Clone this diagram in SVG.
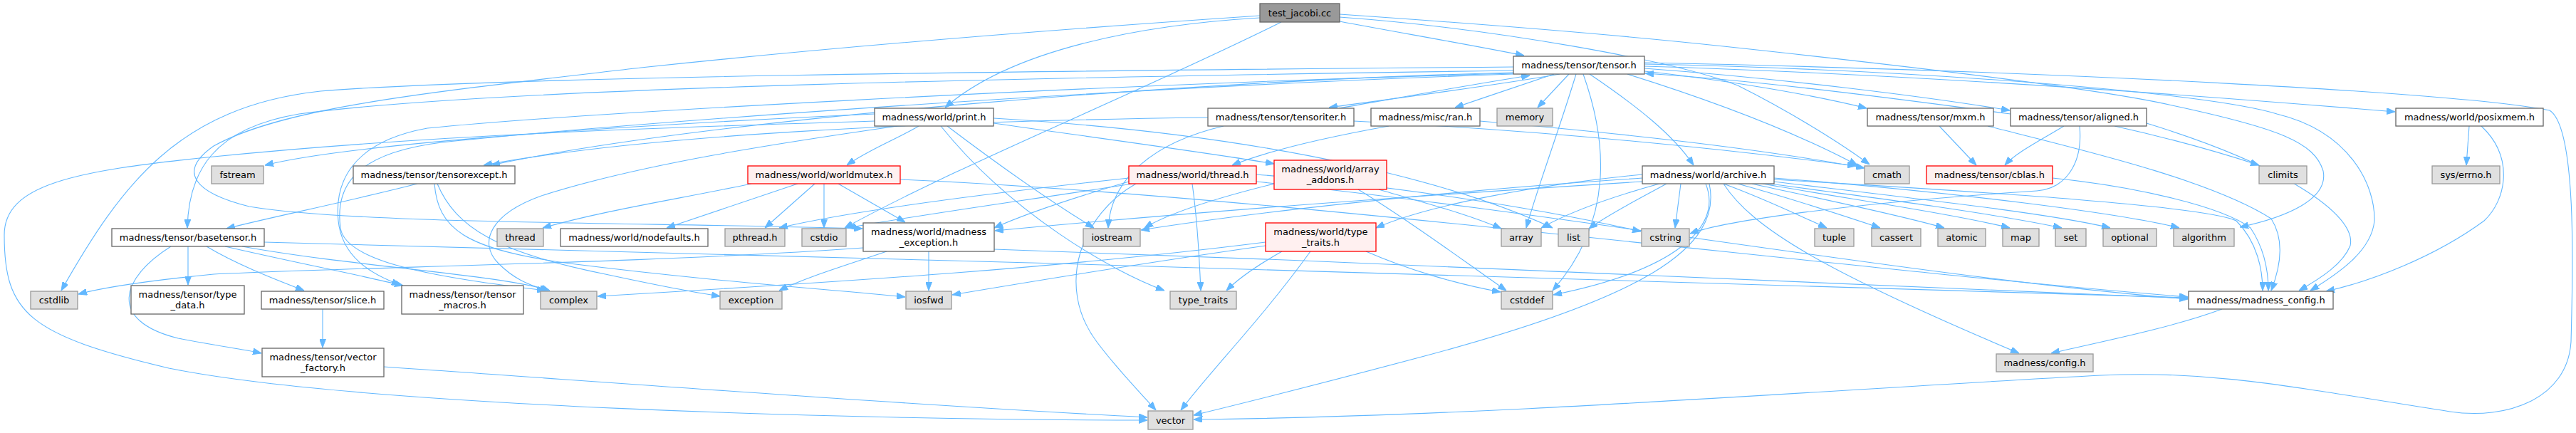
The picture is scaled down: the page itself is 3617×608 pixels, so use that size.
<svg xmlns="http://www.w3.org/2000/svg" width="3617" height="608" viewBox="0 0 3617 608">
<style>
.e{fill:none;stroke:#63b8ff;stroke-width:1.1;marker-end:url(#ah)}
.n rect{fill:#ffffff;stroke:#666666;stroke-width:1.3}
.s rect{fill:#e0e0e0;stroke:#999999;stroke-width:1.3}
.r rect{fill:#fff0f0;stroke:#ff0000;stroke-width:1.3}
.root rect{fill:#999999;stroke:#666666;stroke-width:1.3}
text{font-family:"DejaVu Sans","Liberation Sans",sans-serif;font-size:13px;fill:#000;text-anchor:middle}
</style>
<defs>
<marker id="ah" markerWidth="12" markerHeight="9" refX="12" refY="4.5" orient="auto" markerUnits="userSpaceOnUse">
<path d="M0,0 L12,4.5 L0,9 z" fill="#63b8ff" stroke="#63b8ff"/>
</marker>
</defs>
<rect width="3617" height="608" fill="#ffffff"/>
<g id="edges">
<path class="e" d="M1881,30 C1960,45 2060,62 2140,78"/>
<path class="e" d="M1769,25 C1600,35 1420,70 1327,151"/>
<path class="e" d="M1799,31 C1600,130 1350,230 1186,320"/>
<path class="e" d="M1881,24 C2100,40 2350,85 2440,120 C2520,160 2590,205 2625,231"/>
<path class="e" d="M1881,20 C2100,35 2300,52 2420,65 C2700,95 2950,125 3050,148 C3200,180 3250,200 3262,240 C3270,280 3210,305 3145,319"/>
<path class="e" d="M1769,22 C1500,40 1200,63 900,95 C600,130 400,150 300,205 C250,240 270,270 350,290 C500,315 900,312 1211,321"/>
<path class="e" d="M2190,104 C2100,120 1960,138 1866,151"/>
<path class="e" d="M1880,152 C1960,138 2070,118 2148,106"/>
<path class="e" d="M2182,104 C2140,118 2090,135 2043,151"/>
<path class="e" d="M2203,104 L2159,151"/>
<path class="e" d="M2309,100 C2420,112 2540,132 2621,152"/>
<path class="e" d="M2309,96 C2500,110 2700,135 2822,155"/>
<path class="e" d="M2309,93 C2700,105 3100,135 3363,157"/>
<path class="e" d="M2232,104 C2300,150 2350,190 2378,232"/>
<path class="e" d="M2285,104 C2400,140 2520,185 2608,232"/>
<path class="e" d="M2213,104 C2190,180 2160,260 2143,320"/>
<path class="e" d="M2223,104 C2250,180 2275,300 2180,408"/>
<path class="e" d="M2125,99 C1500,108 700,122 420,160 C300,180 265,240 263,320"/>
<path class="e" d="M2125,94 C1400,100 700,108 450,128 C250,150 170,260 86,408"/>
<path class="e" d="M2125,102 C1700,112 1000,165 690,232"/>
<path class="e" d="M2309,88 C2900,100 3450,130 3580,155 C3620,180 3612,400 3610,480 C3605,560 3520,590 3440,578 C3200,540 3100,520 2950,527 C2600,545 2100,585 1676,589"/>
<path class="e" d="M2309,90 C2700,98 3100,130 3197,160 C3300,185 3335,260 3334,310 C3330,350 3290,380 3244,408"/>
<path class="e" d="M2125,103 C1500,120 800,160 600,180 C490,200 470,260 475,310 C480,360 520,385 562,400"/>
<path class="e" d="M2125,104 C1500,125 800,180 620,200 C500,215 470,260 478,320 C485,370 620,390 766,408"/>
<path class="e" d="M1696,165 C1300,170 900,190 679,232"/>
<path class="e" d="M1718,177 C1620,200 1560,250 1556,320"/>
<path class="e" d="M1901,170 C2100,180 2350,200 2606,233"/>
<path class="e" d="M1228,160 C900,175 500,200 372,232"/>
<path class="e" d="M1290,177 C1260,195 1220,210 1189,232"/>
<path class="e" d="M1395,173 C1550,195 1700,215 1789,230"/>
<path class="e" d="M1330,177 C1400,230 1470,280 1536,320"/>
<path class="e" d="M1321,177 C1420,300 1560,380 1635,408"/>
<path class="e" d="M1395,166 C1800,190 2050,260 2180,320"/>
<path class="e" d="M1260,177 C1100,200 900,230 760,275 C690,300 670,340 700,370 C720,390 740,400 770,408"/>
<path class="e" d="M1228,170 C900,180 600,190 300,220 C100,240 6,260 6,330 C6,440 40,470 237,517 C500,570 1200,590 1611,590"/>
<path class="e" d="M1055,258 C950,280 850,295 762,320"/>
<path class="e" d="M1120,258 L936,320"/>
<path class="e" d="M1144,258 L1074,320"/>
<path class="e" d="M1157,258 L1157,320"/>
<path class="e" d="M1177,258 L1271,312"/>
<path class="e" d="M1264,252 C1800,275 2600,380 3072,417"/>
<path class="e" d="M1674,258 C1680,300 1684,360 1686,408"/>
<path class="e" d="M1585,250 C1400,270 1200,295 1094,320"/>
<path class="e" d="M1590,258 C1450,280 1300,300 1190,320"/>
<path class="e" d="M1585,255 C1500,280 1440,300 1396,320"/>
<path class="e" d="M1595,258 C1520,300 1480,400 1540,480 C1570,520 1600,550 1623,576"/>
<path class="e" d="M1764,255 C2200,300 2700,390 3072,420"/>
<path class="e" d="M1764,245 C1950,260 2150,290 2304,325"/>
<path class="e" d="M1936,266 C2000,285 2060,300 2108,321"/>
<path class="e" d="M1789,258 C1700,280 1640,300 1607,320"/>
<path class="e" d="M1907,266 C1980,310 2060,370 2115,408"/>
<path class="e" d="M1304,353 L1304,408"/>
<path class="e" d="M1245,353 C1180,375 1130,390 1094,408"/>
<path class="e" d="M1396,350 C2000,370 2700,405 3072,419"/>
<path class="e" d="M1212,348 C900,370 500,375 300,385 C200,395 140,405 110,413"/>
<path class="e" d="M1800,353 C1770,370 1740,390 1722,408"/>
<path class="e" d="M1777,345 C1600,370 1450,395 1337,414"/>
<path class="e" d="M1918,353 C1980,380 2050,400 2107,410"/>
<path class="e" d="M1840,353 C1770,450 1700,520 1658,576"/>
<path class="e" d="M1777,340 C1500,375 1200,395 839,416"/>
<path class="e" d="M2306,245 C2150,260 2000,290 1932,320"/>
<path class="e" d="M2330,258 C2250,280 2200,300 2164,320"/>
<path class="e" d="M2340,258 C2300,280 2260,300 2231,321"/>
<path class="e" d="M2360,258 L2352,320"/>
<path class="e" d="M2420,258 C2480,280 2520,300 2565,320"/>
<path class="e" d="M2440,258 C2520,280 2580,300 2640,320"/>
<path class="e" d="M2460,258 C2560,280 2660,300 2730,320"/>
<path class="e" d="M2475,258 C2600,280 2740,300 2822,320"/>
<path class="e" d="M2485,258 C2650,280 2800,300 2895,320"/>
<path class="e" d="M2491,255 C2700,280 2880,300 2963,320"/>
<path class="e" d="M2491,250 C2750,270 2980,300 3060,320"/>
<path class="e" d="M2395,258 C2420,320 2350,380 2181,414"/>
<path class="e" d="M2306,250 C2000,270 1750,300 1602,323"/>
<path class="e" d="M2306,255 C1900,280 1600,305 1397,324"/>
<path class="e" d="M2400,258 C2420,350 2300,420 2000,500 C1850,540 1750,565 1676,583"/>
<path class="e" d="M2420,258 C2460,320 2560,380 2835,496"/>
<path class="e" d="M2491,252 C2800,270 3100,290 3140,310 C3170,340 3177,380 3177,408"/>
<path class="e" d="M2723,177 L2775,232"/>
<path class="e" d="M2791,177 C2900,205 3100,250 3189,307 C3210,340 3200,380 3189,408"/>
<path class="e" d="M2898,177 C2860,200 2830,215 2815,232"/>
<path class="e" d="M2823,160 C2600,130 2450,112 2310,103"/>
<path class="e" d="M2969,177 C3050,195 3120,215 3172,232"/>
<path class="e" d="M3014,173 C3200,230 3310,300 3300,345 C3290,370 3260,390 3228,408"/>
<path class="e" d="M2920,177 C2925,230 2900,265 2860,268 C2600,285 2420,310 2373,328"/>
<path class="e" d="M2882,250 C3000,262 3120,290 3160,320 C3180,350 3185,380 3185,408"/>
<path class="e" d="M3467,177 L3463,232"/>
<path class="e" d="M3484,177 C3530,220 3520,280 3488,310 C3420,360 3330,395 3266,409"/>
<path class="e" d="M1950,177 C1850,195 1780,212 1730,232"/>
<path class="e" d="M2078,170 C2250,185 2450,205 2618,236"/>
<path class="e" d="M264,346 L264,400"/>
<path class="e" d="M290,346 C330,370 380,390 427,408"/>
<path class="e" d="M316,346 C420,370 500,385 566,401"/>
<path class="e" d="M240,346 C170,390 150,450 250,475 C300,485 340,490 367,496"/>
<path class="e" d="M340,346 C500,375 700,385 772,408"/>
<path class="e" d="M371,340 C1200,360 2500,400 3072,418"/>
<path class="e" d="M586,258 C480,285 380,305 318,321"/>
<path class="e" d="M614,258 C640,320 700,355 850,385 C920,400 970,410 1011,416"/>
<path class="e" d="M610,258 C615,320 650,350 800,370 C1000,395 1150,405 1271,417"/>
<path class="e" d="M453,434 L453,488"/>
<path class="e" d="M539,515 C900,540 1300,570 1611,586"/>
<path class="e" d="M3120,434 C3050,460 2950,480 2880,496"/>
</g>
<g id="test_jacobi" class="root"><rect x="1769" y="5" width="112" height="26"/><text x="1825" y="22.5">test_jacobi.cc</text></g>
<g id="tensor_h" class="n"><rect x="2125" y="79" width="184" height="25"/><text x="2217" y="96">madness/tensor/tensor.h</text></g>
<g id="print_h" class="n"><rect x="1228" y="152" width="167" height="25"/><text x="1311.5" y="169">madness/world/print.h</text></g>
<g id="tensoriter_h" class="n"><rect x="1696" y="152" width="205" height="25"/><text x="1798.5" y="169">madness/tensor/tensoriter.h</text></g>
<g id="ran_h" class="n"><rect x="1925" y="152" width="153" height="25"/><text x="2001.5" y="169">madness/misc/ran.h</text></g>
<g id="memory" class="s"><rect x="2102" y="152" width="78" height="25"/><text x="2141" y="169">memory</text></g>
<g id="mxm_h" class="n"><rect x="2622" y="152" width="177" height="25"/><text x="2710.5" y="169">madness/tensor/mxm.h</text></g>
<g id="aligned_h" class="n"><rect x="2823" y="152" width="191" height="25"/><text x="2918.5" y="169">madness/tensor/aligned.h</text></g>
<g id="posixmem_h" class="n"><rect x="3364" y="152" width="207" height="25"/><text x="3467.5" y="169">madness/world/posixmem.h</text></g>
<g id="fstream" class="s"><rect x="297" y="233" width="73" height="25"/><text x="333.5" y="250">fstream</text></g>
<g id="tensorexcept_h" class="n"><rect x="496" y="233" width="227" height="25"/><text x="609.5" y="250">madness/tensor/tensorexcept.h</text></g>
<g id="worldmutex_h" class="r"><rect x="1050" y="233" width="214" height="25"/><text x="1157" y="250">madness/world/worldmutex.h</text></g>
<g id="thread_h" class="r"><rect x="1585" y="233" width="179" height="25"/><text x="1674.5" y="250">madness/world/thread.h</text></g>
<g id="array_addons_h" class="r"><rect x="1789" y="225" width="158" height="41"/><text x="1868" y="242">madness/world/array</text><text x="1868" y="257">_addons.h</text></g>
<g id="archive_h" class="n"><rect x="2306" y="233" width="185" height="25"/><text x="2398.5" y="250">madness/world/archive.h</text></g>
<g id="cmath" class="s"><rect x="2618" y="233" width="63" height="25"/><text x="2649.5" y="250">cmath</text></g>
<g id="cblas_h" class="r"><rect x="2705" y="233" width="177" height="25"/><text x="2793.5" y="250">madness/tensor/cblas.h</text></g>
<g id="climits" class="s"><rect x="3172" y="233" width="67" height="25"/><text x="3205.5" y="250">climits</text></g>
<g id="sys_errno_h" class="s"><rect x="3415" y="233" width="95" height="25"/><text x="3462.5" y="250">sys/errno.h</text></g>
<g id="basetensor_h" class="n"><rect x="157" y="321" width="214" height="25"/><text x="264" y="338">madness/tensor/basetensor.h</text></g>
<g id="thread" class="s"><rect x="698" y="321" width="65" height="25"/><text x="730.5" y="338">thread</text></g>
<g id="nodefaults_h" class="n"><rect x="787" y="321" width="207" height="25"/><text x="890.5" y="338">madness/world/nodefaults.h</text></g>
<g id="pthread_h" class="s"><rect x="1018" y="321" width="84" height="25"/><text x="1060" y="338">pthread.h</text></g>
<g id="cstdio" class="s"><rect x="1126" y="321" width="62" height="25"/><text x="1157" y="338">cstdio</text></g>
<g id="madness_exception_h" class="n"><rect x="1212" y="313" width="184" height="40"/><text x="1304" y="330">madness/world/madness</text><text x="1304" y="345">_exception.h</text></g>
<g id="iostream" class="s"><rect x="1521" y="321" width="80" height="25"/><text x="1561" y="338">iostream</text></g>
<g id="world_type_traits_h" class="r"><rect x="1777" y="313" width="155" height="40"/><text x="1854.5" y="330">madness/world/type</text><text x="1854.5" y="345">_traits.h</text></g>
<g id="array" class="s"><rect x="2108" y="321" width="56" height="25"/><text x="2136" y="338">array</text></g>
<g id="list" class="s"><rect x="2188" y="321" width="43" height="25"/><text x="2209.5" y="338">list</text></g>
<g id="cstring" class="s"><rect x="2305" y="321" width="67" height="25"/><text x="2338.5" y="338">cstring</text></g>
<g id="tuple" class="s"><rect x="2548" y="321" width="55" height="25"/><text x="2575.5" y="338">tuple</text></g>
<g id="cassert" class="s"><rect x="2628" y="321" width="69" height="25"/><text x="2662.5" y="338">cassert</text></g>
<g id="atomic" class="s"><rect x="2721" y="321" width="67" height="25"/><text x="2754.5" y="338">atomic</text></g>
<g id="map" class="s"><rect x="2812" y="321" width="51" height="25"/><text x="2837.5" y="338">map</text></g>
<g id="set" class="s"><rect x="2886" y="321" width="43" height="25"/><text x="2907.5" y="338">set</text></g>
<g id="optional" class="s"><rect x="2953" y="321" width="75" height="25"/><text x="2990.5" y="338">optional</text></g>
<g id="algorithm" class="s"><rect x="3052" y="321" width="85" height="25"/><text x="3094.5" y="338">algorithm</text></g>
<g id="cstdlib" class="s"><rect x="43" y="409" width="66" height="25"/><text x="76" y="426">cstdlib</text></g>
<g id="type_data_h" class="n"><rect x="184" y="401" width="159" height="40"/><text x="263.5" y="418">madness/tensor/type</text><text x="263.5" y="433">_data.h</text></g>
<g id="slice_h" class="n"><rect x="367" y="409" width="172" height="25"/><text x="453" y="426">madness/tensor/slice.h</text></g>
<g id="tensor_macros_h" class="n"><rect x="564" y="401" width="171" height="40"/><text x="649.5" y="418">madness/tensor/tensor</text><text x="649.5" y="433">_macros.h</text></g>
<g id="complex" class="s"><rect x="759" y="409" width="79" height="25"/><text x="798.5" y="426">complex</text></g>
<g id="exception" class="s"><rect x="1011" y="409" width="87" height="25"/><text x="1054.5" y="426">exception</text></g>
<g id="iosfwd" class="s"><rect x="1272" y="409" width="64" height="25"/><text x="1304" y="426">iosfwd</text></g>
<g id="type_traits" class="s"><rect x="1643" y="409" width="93" height="25"/><text x="1689.5" y="426">type_traits</text></g>
<g id="cstddef" class="s"><rect x="2108" y="409" width="72" height="25"/><text x="2144" y="426">cstddef</text></g>
<g id="madness_config_h" class="n"><rect x="3073" y="409" width="203" height="25"/><text x="3174.5" y="426">madness/madness_config.h</text></g>
<g id="vector_factory_h" class="n"><rect x="368" y="489" width="171" height="40"/><text x="453.5" y="506">madness/tensor/vector</text><text x="453.5" y="521">_factory.h</text></g>
<g id="config_h" class="s"><rect x="2803" y="497" width="136" height="25"/><text x="2871" y="514">madness/config.h</text></g>
<g id="vector" class="s"><rect x="1612" y="577" width="63" height="26"/><text x="1643.5" y="594.5">vector</text></g>
</svg>
